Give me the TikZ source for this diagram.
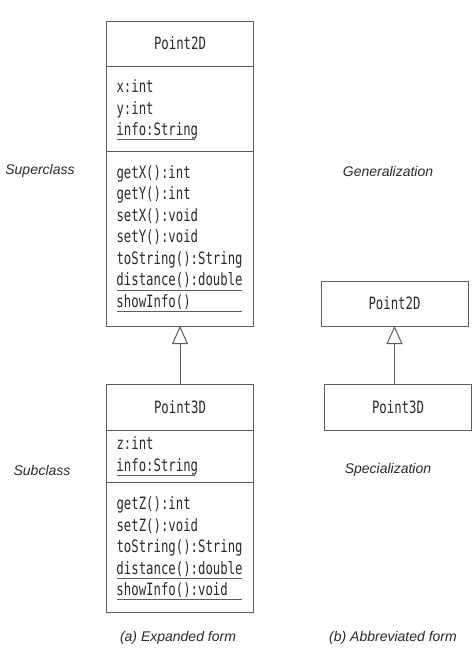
\documentclass[tikz,border=0pt]{standalone}
\usepackage{fontspec}
\usepackage{tikz}
\usetikzlibrary{arrows.meta, positioning}

\newfontfamily\umlfont[FakeStretch=0.725]{DejaVu Sans Mono}
\newfontfamily\capfont{Liberation Sans}
\definecolor{umlline}{HTML}{5E5E5E}
\definecolor{umltext}{HTML}{2A2A2A}
% underlined member: width of the rule, then the text
\newcommand\umem[2]{\leavevmode\rlap{\textcolor{umlline}{\rule[-4.5pt]{#1}{0.8pt}}}#2}

\begin{document}
\begin{tikzpicture}[x=1pt, y=-1pt, every node/.style={text=umltext},
    cname/.style={draw=umlline, line width=1pt, minimum width=147pt, inner sep=0pt, outer sep=0pt,
      font=\umlfont\fontsize{17}{21.5}\selectfont},
    members/.style={cname, text width=127pt, inner xsep=10pt, inner ysep=2pt, align=left},
    caption/.style={font=\capfont\itshape\fontsize{14}{16}\selectfont},
    inherit/.style={draw=umlline, line width=1pt, -{Triangle[open, fill=white, length=18pt, width=16pt]}}]

    \useasboundingbox (0,0) rectangle (473,670);

    % (a) expanded form
    \node[cname, minimum height=45pt, anchor=north] (p2name) at (180,21) {Point2D};
    \node[members, minimum height=85pt, below=0pt of p2name] (p2attr)
        {\rule{0pt}{18pt}x:int\\ y:int\\ \umem{78pt}{info:String}\strut};
    \node[members, minimum height=175pt, below=0pt of p2attr] (p2meth)
        {\strut getX():int\\ getY():int\\ setX():void\\ setY():void\\ toString():String\\
         \umem{126pt}{distance():double}\\ \umem{126pt}{showInfo()}\strut};

    \node[cname, minimum height=46pt, anchor=north] (p3name) at (180,384) {Point3D};
    \node[members, minimum height=52pt, below=0pt of p3name] (p3attr)
        {\strut z:int\\ \umem{78pt}{info:String}\strut};
    \node[members, minimum height=130pt, below=0pt of p3attr] (p3meth)
        {\rule{0pt}{18pt}getZ():int\\ setZ():void\\ toString():String\\
         \umem{126pt}{distance():double}\\ \umem{126pt}{showInfo():void}\strut};

    % (b) abbreviated form
    \node[cname, minimum height=45pt] (g2name) at (394.5,303.5) {Point2D};
    \node[cname, minimum height=46pt] (g3name) at (398,407) {Point3D};

    % captions
    \node[caption] (sup)  at (40,171)   {Superclass};
    \node[caption] (sub)  at (42,470)   {Subclass};
    \node[caption] (gen)  at (388,171)  {Generalization};
    \node[caption] (spec) at (388,470)  {Specialization};
    \node[caption] (capa) at (178,638)  {(a) Expanded form};
    \node[caption] (capb) at (393,638)  {(b) Abbreviated form};

    \draw[inherit] (p3name.north) -- (p2meth.south);
    \draw[inherit] (g2name.south |- g3name.north) -- (g2name.south);
\end{tikzpicture}
\end{document}
